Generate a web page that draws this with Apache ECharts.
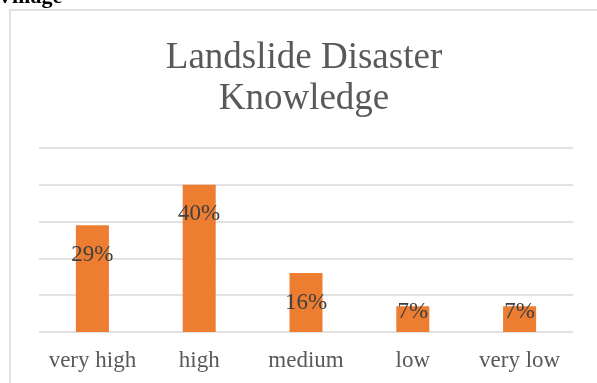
<!DOCTYPE html>
<html>
<head>
<meta charset="utf-8">
<style>
  html, body { margin: 0; padding: 0; background: #fff; }
  #chart { width: 597px; height: 383px; }
</style>
<script src="https://cdn.jsdelivr.net/npm/echarts@6/dist/echarts.min.js"></script>
</head>
<body>
<div id="chart"></div>
<script>
// Knowledge levels and the share of respondents in each
const categories = ['very high', 'high', 'medium', 'low', 'very low'];
const shares = [29, 40, 16, 7, 7];
const axisMax = 50;
const axisStep = 10;

const serif = '"Liberation Serif", "Times New Roman", serif';

const chart = echarts.init(document.getElementById('chart'), null, { renderer: 'canvas' });

const barData = shares.map(function (v) {
  // short bars carry their label just over the top edge
  return v < 10 ? { value: v, label: { distance: -6 } } : { value: v };
});

chart.setOption({
  animation: false,
  backgroundColor: '#ffffff',
  graphic: [
    {
      type: 'rect',
      shape: { x: 10, y: 10, width: 600, height: 400 },
      style: { fill: 'none', stroke: '#d9d9d9', lineWidth: 1.5 },
      z: 0
    },
    {
      type: 'text',
      style: {
        text: 'Village',
        x: -3, y: 8,
        textVerticalAlign: 'bottom',
        font: 'bold 22px ' + serif,
        fill: '#000000'
      }
    },
    {
      type: 'text',
      style: {
        text: 'Landslide Disaster\nKnowledge',
        x: 304, y: 38,
        textAlign: 'center',
        textVerticalAlign: 'top',
        font: '37px ' + serif,
        lineHeight: 41,
        fill: '#595959'
      }
    }
  ],
  grid: { left: 39, right: 24, top: 148, bottom: 51, containLabel: false },
  xAxis: {
    type: 'category',
    data: categories,
    axisLine: { show: false },
    axisTick: { show: false },
    axisLabel: {
      interval: 0,
      color: '#595959',
      fontFamily: serif,
      fontSize: 23,
      margin: 17
    }
  },
  yAxis: {
    type: 'value',
    min: 0,
    max: axisMax,
    interval: axisStep,
    axisLabel: { show: false },
    axisLine: { show: false },
    axisTick: { show: false },
    splitLine: { lineStyle: { color: '#d9d9d9', width: 1.5 } }
  },
  series: [{
    type: 'bar',
    data: barData,
    barWidth: 33,
    itemStyle: { color: '#ED7D31' },
    label: {
      show: true,
      position: 'insideTop',
      distance: 18,
      formatter: '{c}%',
      color: '#404040',
      fontFamily: serif,
      fontSize: 23
    }
  }]
});
</script>
</body>
</html>
